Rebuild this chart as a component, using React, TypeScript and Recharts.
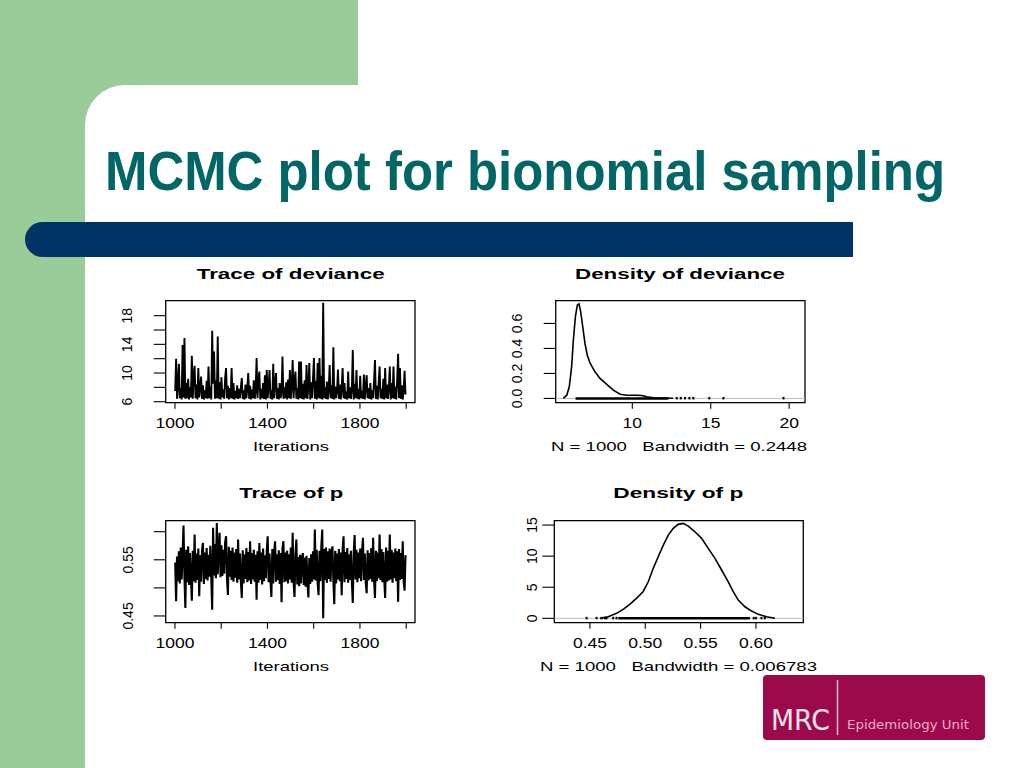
import React from 'react';
import { ComposedChart, Line, XAxis, YAxis, ReferenceArea, ReferenceLine, Scatter } from 'recharts';

// ---------- data ----------
const ITER_START = 1001;
const ITER_THIN = 4;

const devianceTrace = [
  7.5, 12.0, 6.4, 8.2, 11.3, 6.5, 7.9, 6.3, 13.9, 6.6,
  14.9, 6.4, 8.6, 6.5, 9.2, 6.3, 8.0, 6.6, 12.4, 6.4,
  9.8, 11.0, 6.5, 8.4, 6.3, 10.7, 6.6, 7.8, 9.5, 6.4,
  8.3, 6.3, 7.6, 6.5, 8.9, 6.4, 10.9, 6.5, 8.1, 6.3,
  15.9, 8.5, 13.0, 6.4, 9.0, 6.5, 15.1, 6.4, 8.7, 6.3,
  9.4, 6.6, 7.7, 6.4, 9.3, 10.7, 6.5, 8.2, 6.3, 7.9,
  6.5, 10.7, 6.4, 8.6, 6.3, 7.5, 6.5, 8.3, 6.4, 7.8,
  6.5, 8.0, 9.3, 6.4, 7.6, 6.3, 8.4, 6.5, 7.9, 10.0,
  6.4, 8.2, 6.3, 7.7, 6.5, 9.0, 6.4, 7.5, 12.1, 6.5,
  8.9, 10.2, 6.3, 7.8, 6.5, 8.6, 6.4, 9.7, 6.3, 10.4,
  6.5, 8.1, 10.4, 6.4, 7.6, 6.3, 11.3, 6.5, 8.4, 10.0,
  6.4, 7.9, 6.3, 8.6, 6.5, 7.4, 12.3, 6.4, 8.0, 6.5,
  8.7, 6.3, 9.1, 6.5, 10.4, 6.4, 8.3, 11.8, 6.5, 8.8,
  10.2, 6.4, 7.9, 6.3, 11.6, 6.5, 11.6, 6.4, 8.5, 6.3,
  9.0, 6.5, 11.1, 6.4, 8.2, 11.4, 6.3, 8.7, 6.5, 9.3,
  12.1, 6.4, 8.9, 6.3, 11.4, 6.5, 12.1, 6.4, 9.6, 6.3,
  19.8, 6.5, 8.0, 6.4, 8.8, 6.3, 7.7, 11.1, 6.5, 8.3,
  6.4, 13.6, 6.3, 8.1, 6.5, 7.6, 10.5, 6.4, 8.4, 6.3,
  7.9, 10.7, 6.5, 8.6, 6.4, 7.4, 6.3, 10.2, 6.5, 8.0,
  6.4, 7.7, 13.2, 6.3, 8.5, 6.5, 10.4, 6.4, 7.8, 6.3,
  9.6, 6.5, 7.5, 6.4, 9.8, 6.3, 8.2, 9.7, 6.5, 7.9,
  6.4, 8.6, 6.3, 7.6, 6.5, 8.9, 11.8, 6.4, 8.2, 6.3,
  8.7, 10.9, 6.5, 7.8, 6.4, 9.2, 6.3, 10.7, 6.5, 8.4,
  6.4, 7.9, 10.9, 6.3, 8.6, 6.5, 10.9, 6.4, 8.1, 6.3,
  9.1, 12.7, 6.5, 10.7, 6.4, 8.3, 6.3, 7.6, 10.3, 7.0,
];

const pTrace = [
  0.545, 0.476, 0.556, 0.512, 0.565, 0.508, 0.572, 0.515, 0.560, 0.611,
  0.520, 0.464, 0.568, 0.510, 0.574, 0.505, 0.562, 0.518, 0.477, 0.566,
  0.512, 0.595, 0.509, 0.561, 0.514, 0.570, 0.485, 0.558, 0.511, 0.567,
  0.580, 0.507, 0.563, 0.516, 0.571, 0.513, 0.559, 0.520, 0.575, 0.518,
  0.461, 0.607, 0.522, 0.578, 0.517, 0.6155, 0.524, 0.570, 0.598, 0.519,
  0.576, 0.521, 0.568, 0.525, 0.581, 0.592, 0.516, 0.4875, 0.573, 0.520,
  0.566, 0.514, 0.572, 0.511, 0.563, 0.518, 0.569, 0.509, 0.586, 0.515,
  0.561, 0.512, 0.482, 0.567, 0.508, 0.560, 0.516, 0.571, 0.510, 0.564,
  0.513, 0.583, 0.507, 0.562, 0.515, 0.568, 0.511, 0.559, 0.479, 0.565,
  0.509, 0.580, 0.514, 0.563, 0.506, 0.570, 0.512, 0.558, 0.517, 0.566,
  0.592, 0.510, 0.561, 0.513, 0.484, 0.569, 0.508, 0.564, 0.583, 0.511,
  0.560, 0.514, 0.567, 0.507, 0.562, 0.4745, 0.571, 0.583, 0.510, 0.563,
  0.512, 0.566, 0.508, 0.560, 0.515, 0.572, 0.509, 0.598, 0.511, 0.484,
  0.558, 0.586, 0.506, 0.555, 0.503, 0.559, 0.508, 0.552, 0.562, 0.505,
  0.554, 0.502, 0.557, 0.509, 0.483, 0.553, 0.507, 0.560, 0.511, 0.565,
  0.515, 0.604, 0.513, 0.568, 0.510, 0.487, 0.566, 0.512, 0.573, 0.604,
  0.446, 0.569, 0.514, 0.572, 0.509, 0.565, 0.516, 0.570, 0.511, 0.562,
  0.574, 0.513, 0.471, 0.566, 0.508, 0.561, 0.515, 0.569, 0.512, 0.563,
  0.487, 0.567, 0.592, 0.510, 0.564, 0.516, 0.571, 0.509, 0.560, 0.514,
  0.566, 0.511, 0.473, 0.562, 0.594, 0.515, 0.568, 0.510, 0.563, 0.517,
  0.570, 0.512, 0.565, 0.589, 0.514, 0.561, 0.509, 0.4905, 0.567, 0.513,
  0.562, 0.516, 0.571, 0.511, 0.589, 0.515, 0.482, 0.566, 0.512, 0.563,
  0.517, 0.595, 0.514, 0.569, 0.510, 0.564, 0.516, 0.482, 0.572, 0.511,
  0.566, 0.513, 0.595, 0.515, 0.568, 0.509, 0.563, 0.517, 0.570, 0.512,
  0.565, 0.4755, 0.569, 0.514, 0.562, 0.516, 0.583, 0.511, 0.495, 0.558,
];

const traceXTicks = [1000, 1200, 1400, 1600, 1800, 2000];
const traceXLabels = [1000, 1400, 1800];
const devTraceYTicks = [6, 8, 10, 12, 14, 16, 18];
const devTraceYLabels = [6, 10, 14, 18];
const pTraceYTicks = [0.45, 0.5, 0.55, 0.6];
const pTraceYLabels = [0.45, 0.55];

const devDensX = [5.6, 5.82, 5.98, 6.13, 6.24, 6.37, 6.49, 6.6, 6.71, 6.84, 6.98, 7.13, 7.3, 7.62, 7.94, 8.37, 8.79, 9.22, 9.64, 10.28, 10.6, 10.92, 11.34, 11.77, 12.6];
const devDensY = [0, 0.026, 0.093, 0.253, 0.466, 0.653, 0.746, 0.756, 0.693, 0.573, 0.44, 0.346, 0.285, 0.213, 0.16, 0.112, 0.066, 0.034, 0.026, 0.026, 0.024, 0.013, 0.005, 0.003, 0.001];
const devDensXTicks = [10, 15, 20];
const devDensYTicks = [0, 0.2, 0.4, 0.6];
const devRugSpan = [6.38, 12.3];
const devRugDots = [12.83, 13.09, 13.36, 13.64, 13.89, 14.91, 15.81, 19.64];

const pDensX = [0.459, 0.4666, 0.474, 0.48, 0.486, 0.492, 0.498, 0.5027, 0.5072, 0.5117, 0.5163, 0.5208, 0.5253, 0.5298, 0.5343, 0.5389, 0.5449, 0.5509, 0.5569, 0.563, 0.569, 0.575, 0.5795, 0.584, 0.5901, 0.5961, 0.6021, 0.6096, 0.6172];
const pDensY = [0, 0.26, 0.8, 1.44, 2.24, 3.21, 4.28, 5.88, 8.04, 9.9, 11.78, 13.39, 14.47, 15.11, 15.27, 14.84, 13.92, 12.86, 11.25, 9.65, 7.77, 5.88, 4.28, 2.94, 1.86, 1.17, 0.64, 0.26, 0];
const pDensXTicks = [0.45, 0.5, 0.55, 0.6];
const pDensYTicks = [0, 5, 10, 15];
const pRugSpan = [0.4756, 0.5946];
const pRugDots = [0.447, 0.456, 0.4606, 0.4636, 0.465, 0.471, 0.474, 0.598, 0.6, 0.605, 0.608];

// ---------- helpers ----------
const FONT = '"Liberation Sans", Arial, Helvetica, sans-serif';

const devTraceData = devianceTrace.map((v, k) => ({ x: ITER_START + ITER_THIN * k, y: v }));
const pTraceData = pTrace.map((v, k) => ({ x: ITER_START + ITER_THIN * k, y: v }));
const devDensData = devDensX.map((x, i) => ({ x, y: devDensY[i] }));
const pDensData = pDensX.map((x, i) => ({ x, y: pDensY[i] }));
const devRugDotData = devRugDots.map((x) => ({ x, y: 0 }));
const pRugDotData = pRugDots.map((x) => ({ x, y: 0 }));

type Box = { x0: number; x1: number; y0: number; y1: number };

const renderXTick = (p: any, fmt: (v: number) => string) => {
  const s = fmt(p.payload.value);
  if (!s) return <g />;
  return (
    <text
      transform={`translate(${p.x},${p.y + 17.6}) scale(1.25,1)`}
      textAnchor="middle"
      fontSize={14}
      fontFamily={FONT}
      fill="#000"
    >
      {s}
    </text>
  );
};

const renderYTick = (p: any, fmt: (v: number) => string) => {
  const s = fmt(p.payload.value);
  if (!s) return <g />;
  return (
    <text
      transform={`translate(${p.x},${p.y}) rotate(-90)`}
      textAnchor="middle"
      fontSize={14}
      fontFamily={FONT}
      fill="#000"
    >
      {s}
    </text>
  );
};

function Panel(props: {
  left: number;
  top: number;
  box: Box;
  xDomain: [number, number];
  yDomain: [number, number];
  xTicks: number[];
  yTicks: number[];
  xFmt: (v: number) => string;
  yFmt: (v: number) => string;
  yGap: number;
  children: React.ReactNode;
}) {
  const { left, top, box, xDomain, yDomain, xTicks, yTicks, xFmt, yFmt, yGap, children } = props;
  const mt = box.y0 - top;
  const yw = box.x0 - left;
  const mr = 10;
  const xh = 40;
  const width = box.x1 - left + mr;
  const height = box.y1 - top + xh;
  return (
    <div style={{ position: 'absolute', left, top, width, height }}>
      <ComposedChart width={width} height={height} margin={{ top: mt, right: mr, bottom: 0, left: 0 }}>
        <XAxis
          type="number"
          dataKey="x"
          domain={xDomain}
          allowDataOverflow
          ticks={xTicks}
          interval={0}
          height={xh}
          tickSize={6}
          tickMargin={2}
          axisLine={false}
          tickLine={{ stroke: '#000', strokeWidth: 1.1 }}
          tick={(p: any) => renderXTick(p, xFmt)}
        />
        <YAxis
          type="number"
          dataKey="y"
          domain={yDomain}
          allowDataOverflow
          ticks={yTicks}
          interval={0}
          width={yw}
          tickSize={12}
          tickMargin={yGap - 12}
          axisLine={false}
          tickLine={{ stroke: '#000', strokeWidth: 1.1 }}
          tick={(p: any) => renderYTick(p, yFmt)}
        />
        {children}
        <ReferenceArea
          x1={xDomain[0]}
          x2={xDomain[1]}
          y1={yDomain[0]}
          y2={yDomain[1]}
          fill="none"
          fillOpacity={0}
          stroke="#000"
          strokeWidth={1.3}
          ifOverflow="visible"
        />
      </ComposedChart>
    </div>
  );
}

const rugDot = (p: any) => <rect x={p.cx - 1} y={p.cy - 1.5} width={2} height={2.5} fill="#000" />;

const T = (props: { x: number; y: number; len: number; size: number; bold?: boolean; children: string; fill?: string; family?: string }) => (
  <text
    x={props.x}
    y={props.y}
    textLength={props.len}
    lengthAdjust="spacingAndGlyphs"
    fontSize={props.size}
    fontWeight={props.bold ? 'bold' : 'normal'}
    fontFamily={props.family || FONT}
    fill={props.fill || '#000'}
    style={{ whiteSpace: 'pre' }}
  >
    {props.children}
  </text>
);

export default function App() {
  const green = '#99cc99';
  return (
    <div style={{ position: 'absolute', left: 0, top: 0, width: 1024, height: 768, overflow: 'hidden', background: '#fff' }}>
      <svg width={1024} height={768} style={{ position: 'absolute', left: 0, top: 0 }}>
        <rect x={0} y={0} width={1024} height={768} fill="#fff" />
        <rect x={0} y={0} width={358} height={140} fill={green} />
        <rect x={0} y={0} width={85} height={768} fill={green} />
        <rect x={85} y={85} width={1100} height={900} rx={40} ry={40} fill="#fff" />
        <path d="M 42.5 222 H 853 V 257 H 42.5 A 17.5 17.5 0 0 1 42.5 222 Z" fill="#003366" />
        <g transform="translate(105,190) scale(1,1.1)">
          <text
            x={0}
            y={0}
            textLength={840}
            lengthAdjust="spacingAndGlyphs"
            fontSize={50.5}
            fontWeight="bold"
            fontFamily={FONT}
            fill="#006666"
          >
            MCMC plot for bionomial sampling
          </text>
        </g>

        <T x={196.7} y={279} len={188} size={14} bold>Trace of deviance</T>
        <T x={575} y={279} len={210} size={14} bold>Density of deviance</T>
        <T x={239.3} y={498} len={104} size={14} bold>Trace of p</T>
        <T x={613.3} y={498} len={130} size={14} bold>Density of p</T>

        <T x={253} y={451} len={76} size={13}>Iterations</T>
        <T x={551} y={451} len={256} size={13}>N = 1000   Bandwidth = 0.2448</T>
        <T x={253} y={671} len={76} size={13}>Iterations</T>
        <T x={540} y={671} len={277} size={13}>N = 1000   Bandwidth = 0.006783</T>

        <rect x={763} y={675} width={222} height={65} rx={4} ry={4} fill="#9c0a4c" />
        <T x={771} y={730} len={59} size={28} fill="#fbe4ee" family={'"DejaVu Sans", Verdana, sans-serif'}>MRC</T>
        <line x1={837.5} y1={680} x2={837.5} y2={735} stroke="#f2bcd4" strokeWidth={1.5} />
        <T x={847} y={729} len={122} size={12} fill="#f2a9cb" family={'"DejaVu Sans", Verdana, sans-serif'}>Epidemiology Unit</T>
      </svg>

      <Panel
        left={100}
        top={290}
        box={{ x0: 165.7, x1: 415, y0: 300.7, y1: 402.7 }}
        xDomain={[960, 2038]}
        yDomain={[5.86, 20.09]}
        xTicks={traceXTicks}
        yTicks={devTraceYTicks}
        xFmt={(v) => (traceXLabels.includes(v) ? String(v) : '')}
        yFmt={(v) => (devTraceYLabels.includes(v) ? String(v) : '')}
        yGap={33.4}
      >
        <Line data={devTraceData} dataKey="y" type="linear" stroke="#000" strokeWidth={1.9} dot={false} activeDot={false} isAnimationActive={false} />
      </Panel>

      <Panel
        left={490}
        top={290}
        box={{ x0: 555.7, x1: 805, y0: 300.7, y1: 402.7 }}
        xDomain={[5.115, 21.01]}
        yDomain={[-0.034, 0.782]}
        xTicks={devDensXTicks}
        yTicks={devDensYTicks}
        xFmt={(v) => String(v)}
        yFmt={(v) => v.toFixed(1)}
        yGap={33.4}
      >
        <ReferenceLine y={0} stroke="#bebebe" strokeWidth={1} />
        <ReferenceLine segment={[{ x: devRugSpan[0], y: 0 }, { x: devRugSpan[1], y: 0 }]} stroke="#000" strokeWidth={2.5} />
        <Scatter data={devRugDotData} dataKey="y" shape={rugDot} isAnimationActive={false} />
        <Line data={devDensData} dataKey="y" type="linear" stroke="#000" strokeWidth={1.6} dot={false} activeDot={false} isAnimationActive={false} />
      </Panel>

      <Panel
        left={100}
        top={510}
        box={{ x0: 165.7, x1: 415, y0: 520.7, y1: 622.7 }}
        xDomain={[960, 2038]}
        yDomain={[0.438, 0.6196]}
        xTicks={traceXTicks}
        yTicks={pTraceYTicks}
        xFmt={(v) => (traceXLabels.includes(v) ? String(v) : '')}
        yFmt={(v) => (pTraceYLabels.includes(v) ? v.toFixed(2) : '')}
        yGap={32.4}
      >
        <Line data={pTraceData} dataKey="y" type="linear" stroke="#000" strokeWidth={2.1} dot={false} activeDot={false} isAnimationActive={false} />
      </Panel>

      <Panel
        left={490}
        top={510}
        box={{ x0: 554.3, x1: 803.3, y0: 520.7, y1: 622.7 }}
        xDomain={[0.4178, 0.6428]}
        yDomain={[-0.7, 15.7]}
        xTicks={pDensXTicks}
        yTicks={pDensYTicks}
        xFmt={(v) => v.toFixed(2)}
        yFmt={(v) => String(v)}
        yGap={17}
      >
        <ReferenceLine y={0} stroke="#bebebe" strokeWidth={1} />
        <ReferenceLine segment={[{ x: pRugSpan[0], y: 0 }, { x: pRugSpan[1], y: 0 }]} stroke="#000" strokeWidth={2.5} />
        <Scatter data={pRugDotData} dataKey="y" shape={rugDot} isAnimationActive={false} />
        <Line data={pDensData} dataKey="y" type="linear" stroke="#000" strokeWidth={1.6} dot={false} activeDot={false} isAnimationActive={false} />
      </Panel>
    </div>
  );
}
